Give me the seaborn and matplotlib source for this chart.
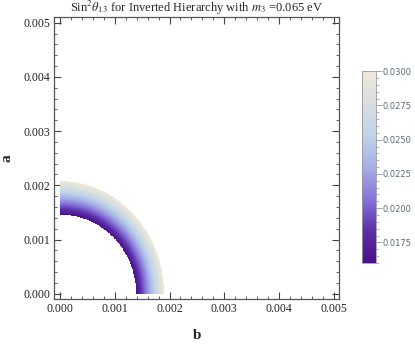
import numpy as np
import matplotlib
matplotlib.use("Agg")
import matplotlib.pyplot as plt
import seaborn as sns
from matplotlib.ticker import MultipleLocator

# band edges (semi-axes of the quarter ellipses)
b_edges = [0.00139, 0.00190]      # inner, outer along b
a_edges = [0.00146, 0.00208]      # inner, outer along a
sin2_range = [0.0160, 0.0300]     # colour scale limits
cbar_ticks = [0.0175, 0.0200, 0.0225, 0.0250, 0.0275, 0.0300]
axis_ticks = [0.000, 0.001, 0.002, 0.003, 0.004, 0.005]
lake_colors = ["#4a1088", "#5d2fa8", "#8573dc", "#a8aee6", "#bed4e9", "#d9dee0", "#efe9d8"]

sns.set_theme(style="ticks")
plt.rcParams['font.family'] = ['Liberation Serif', 'DejaVu Serif']
plt.rcParams['mathtext.fontset'] = 'stix'

cmap = sns.blend_palette(lake_colors, as_cmap=True)

bb, aa = np.meshgrid(np.linspace(0, 0.0022, 400), np.linspace(0, 0.0022, 400))
phi = np.arctan2(aa, bb)
r = np.hypot(bb, aa)
r_in = 1 / np.sqrt((np.cos(phi) / b_edges[0])**2 + (np.sin(phi) / a_edges[0])**2)
r_out = 1 / np.sqrt((np.cos(phi) / b_edges[1])**2 + (np.sin(phi) / a_edges[1])**2)
t = (r - r_in) / (r_out - r_in)
val = sin2_range[0] + t * (sin2_range[1] - sin2_range[0])
val = np.ma.masked_where((t < 0) | (t > 1), val)

fig = plt.figure(figsize=(4.15, 3.47), dpi=100)
ax = fig.add_axes([0.131, 0.138, 0.687, 0.812])
mesh = ax.pcolormesh(bb, aa, val, cmap=cmap, vmin=sin2_range[0], vmax=sin2_range[1],
                     shading='auto', rasterized=True)
ax.set_xlim(-0.0001, 0.0051)
ax.set_ylim(-0.0001, 0.0051)
ax.set_xticks(axis_ticks)
ax.set_yticks(axis_ticks)
ax.set_xticklabels([f"{v:.3f}" for v in axis_ticks])
ax.set_yticklabels([f"{v:.3f}" for v in axis_ticks])
ax.xaxis.set_minor_locator(MultipleLocator(0.0002))
ax.yaxis.set_minor_locator(MultipleLocator(0.0002))
ax.tick_params(which='both', direction='in', top=True, right=True, color='#444444',
               labelsize=8.5, labelcolor='#222222', pad=3)
ax.tick_params(which='major', length=5, width=0.8)
ax.tick_params(which='minor', length=2.5, width=0.6)
for sp in ax.spines.values():
    sp.set_color('#555555')
    sp.set_linewidth(0.9)
ax.set_xlabel("b", fontsize=11, fontweight='bold')
ax.xaxis.set_label_coords(0.5, -0.105)
ax.set_ylabel("a", fontsize=11, fontweight='bold')
ax.yaxis.set_label_coords(-0.145, 0.5)
ax.set_title(r"Sin$^2\theta_{13}$ for Inverted Hierarchy with $m_3$ =0.065 eV",
             fontsize=9, pad=2)

cax = fig.add_axes([0.872, 0.242, 0.034, 0.553])
cb = fig.colorbar(mesh, cax=cax, ticks=cbar_ticks)
cb.ax.set_yticklabels([f"{v:.4f}" for v in cbar_ticks], family='DejaVu Sans')
cb.ax.yaxis.set_minor_locator(MultipleLocator(0.0005))
cb.ax.tick_params(which='both', direction='out', colors='#8899aa', labelcolor='#5a6878',
                  labelsize=6, pad=1)
cb.ax.tick_params(which='major', length=4, width=0.6)
cb.ax.tick_params(which='minor', length=2, width=0.5)
cb.outline.set_edgecolor('#999999')
cb.outline.set_linewidth(0.6)

fig.savefig("out.png", dpi=100)
